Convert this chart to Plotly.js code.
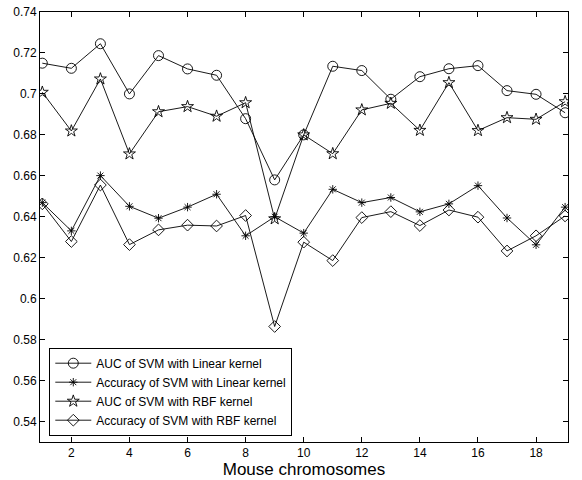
<!DOCTYPE html>
<html><head><meta charset="utf-8">
<script src="https://cdn.plot.ly/plotly-3.0.1.min.js"></script>
<style>html,body{margin:0;padding:0;background:#fff}#chart{width:582px;height:480px}</style>
</head><body><div id="chart"></div>
<script>
const chromosomes = [1,2,3,4,5,6,7,8,9,10,11,12,13,14,15,16,17,18,19];
const aucLinear = [0.715,0.7125,0.7245,0.700,0.7187,0.7122,0.7091,0.6879,0.658,0.680,0.7135,0.7114,0.6974,0.7084,0.7123,0.7138,0.7016,0.6998,0.6908];
const accLinear = [0.6469,0.6331,0.6601,0.6451,0.6393,0.6447,0.6510,0.6307,0.640,0.632,0.6534,0.6469,0.6494,0.6424,0.6463,0.6552,0.6394,0.6263,0.6447];
const aucRBF = [0.7008,0.6819,0.7073,0.6707,0.6913,0.6938,0.6891,0.6957,0.639,0.680,0.6708,0.6922,0.6954,0.6822,0.7055,0.6821,0.6884,0.6876,0.6962];
const accRBF = [0.6463,0.6279,0.6555,0.6264,0.6336,0.6359,0.6355,0.6406,0.5864,0.6276,0.6186,0.6396,0.6425,0.6357,0.6433,0.6398,0.6233,0.6307,0.6404];
const seriesNames = ["AUC of SVM with Linear kernel","Accuracy of SVM with Linear kernel","AUC of SVM with RBF kernel","Accuracy of SVM with RBF kernel"];
const xTickVals = [2,4,6,8,10,12,14,16,18];
const yTickVals = [0.54,0.56,0.58,0.6,0.62,0.64,0.66,0.68,0.7,0.72,0.74];
const yTickText = ["0.54","0.56","0.58","0.6","0.62","0.64","0.66","0.68","0.7","0.72","0.74"];

const FONT = "Liberation Sans, Arial, Helvetica, sans-serif";
function tr(y, name, sym, size) {
  return {x: chromosomes, y: y, name: name, type: 'scatter', mode: 'lines+markers',
    line: {color: '#000', width: 0.9},
    marker: {symbol: sym, size: size, color: '#000', line: {color: '#000', width: 0.9}}};
}
const data = [
  tr(aucLinear, seriesNames[0], 'circle-open', 10),
  tr(accLinear, seriesNames[1], 'asterisk-open', 7),
  tr(aucRBF, seriesNames[2], 'star-open', 9),
  tr(accRBF, seriesNames[3], 'diamond-open', 9)
];
const axisCommon = {showline: true, linecolor: '#000', linewidth: 1, mirror: 'ticks', ticks: 'inside',
  ticklen: 5, tickcolor: '#000', showgrid: false, zeroline: false,
  tickfont: {family: FONT, size: 12, color: '#000'}};
const layout = {
  width: 582, height: 480,
  margin: {l: 40, r: 14, t: 12, b: 38},
  paper_bgcolor: '#fff', plot_bgcolor: '#fff',
  showlegend: true,
  legend: {x: 0.0176, y: 0.117, xanchor: 'left', yanchor: 'middle', bordercolor: '#000', borderwidth: 1,
    bgcolor: '#fff', font: {family: FONT, size: 12, color: '#000'}, tracegroupgap: 0,
    itemwidth: 36},
  xaxis: Object.assign({}, axisCommon, {range: [0.92, 19.1], tickmode: 'array', tickvals: xTickVals,
    title: {text: 'Mouse chromosomes', font: {family: FONT, size: 17, color: '#000'}, standoff: 2}}),
  yaxis: Object.assign({}, axisCommon, {range: [0.53, 0.74], tickmode: 'array', tickvals: yTickVals, ticktext: yTickText})
};
Plotly.newPlot('chart', data, layout, {displayModeBar: false, staticPlot: true});
</script></body></html>
